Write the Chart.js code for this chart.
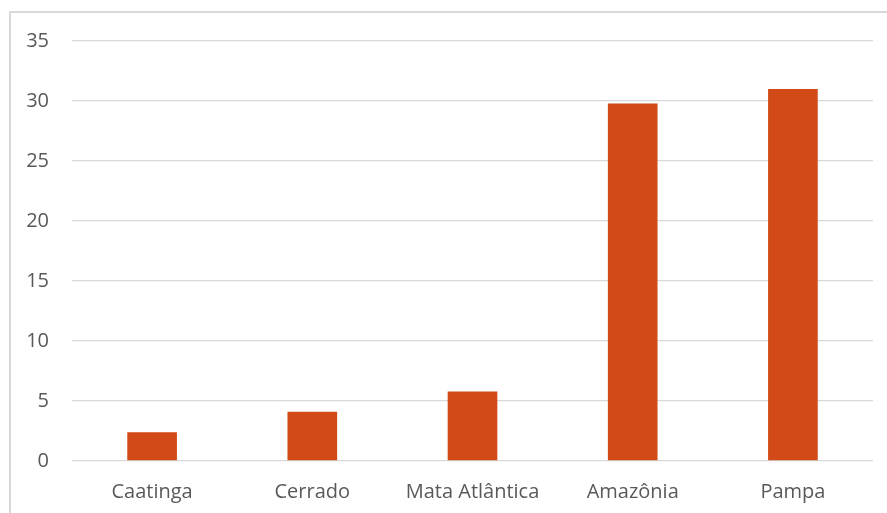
<!DOCTYPE html>
<html>
<head>
<meta charset="utf-8">
<script src="https://cdn.jsdelivr.net/npm/chart.js@4/dist/chart.umd.min.js"></script>
<style>
  html, body { margin: 0; padding: 0; background: #fff; overflow: hidden; }
  #frame {
    position: absolute; left: 9px; top: 11px;
    width: 900px; height: 520px;
    border: 2px solid #d9d9d9;
  }
  #wrap { position: absolute; left: 0; top: 0; width: 887px; height: 513px; }
</style>
</head>
<body>
<div id="frame"></div>
<div id="wrap"><canvas id="biomas"></canvas></div>
<script>
const biomas = ['Caatinga', 'Cerrado', 'Mata Atlântica', 'Amazônia', 'Pampa'];
const valores = [2.4, 4.1, 5.8, 29.8, 31.0];
const yMax = 35;
const yStep = 5;

const fonte = { family: 'Open Sans', size: 20 };

const ctx = document.getElementById('biomas').getContext('2d');
const chart = new Chart(ctx, {
    type: 'bar',
    data: {
        labels: biomas,
        datasets: [{
            data: valores,
            backgroundColor: '#d24a18',
            barPercentage: 0.31,
            categoryPercentage: 1
        }]
    },
    options: {
        responsive: true,
        maintainAspectRatio: false,
        animation: false,
        layout: { padding: { left: 0, right: 14, top: 41, bottom: 0 } },
        scales: {
            y: {
                min: 0, max: yMax,
                ticks: { stepSize: yStep, padding: 23, color: '#595959', font: fonte },
                grid: { color: '#d9d9d9', lineWidth: 1.3, drawTicks: false },
                border: { display: false },
                afterFit: (s) => { s.width = 72; }
            },
            x: {
                ticks: { padding: 19, color: '#595959', font: fonte },
                grid: { display: false, drawTicks: false },
                border: { display: false },
                afterFit: (s) => { s.height = 52; }
            }
        },
        plugins: { legend: { display: false }, tooltip: { enabled: false } }
    }
});
</script>
</body>
</html>
